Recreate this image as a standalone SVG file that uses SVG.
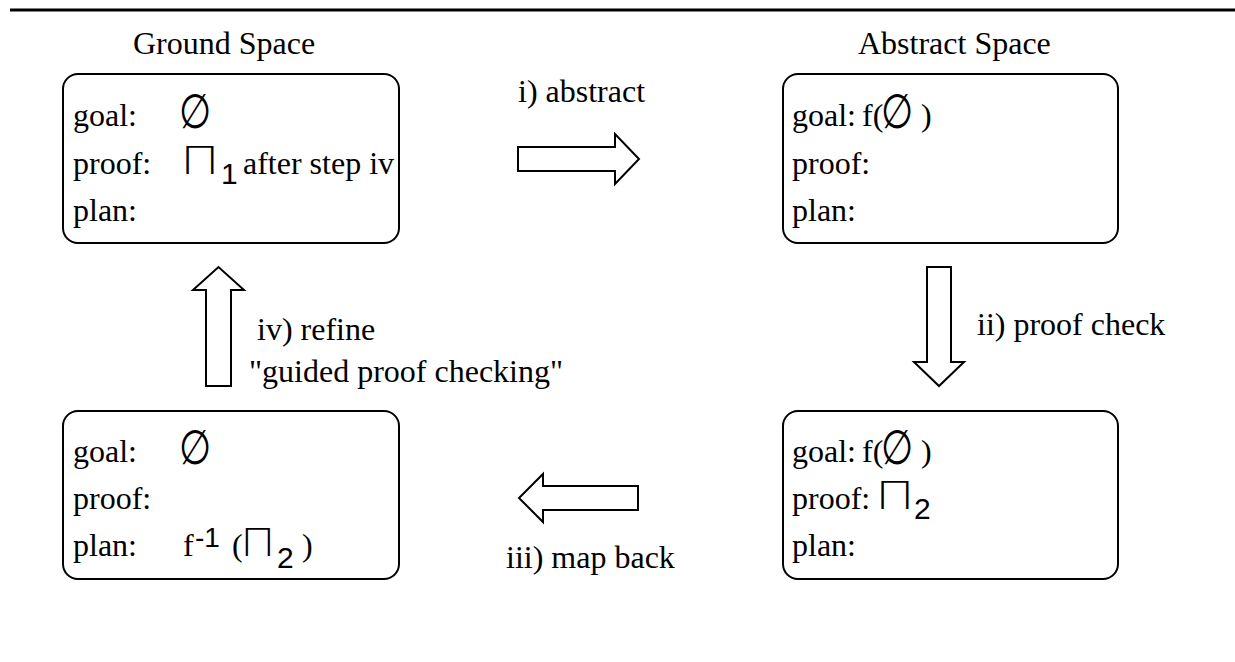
<svg xmlns="http://www.w3.org/2000/svg" width="1235" height="662" viewBox="0 0 1235 662">
<style>
.t{font-family:"Liberation Serif","Times New Roman",serif;font-size:32px;fill:#000}
.s{font-family:"Liberation Sans",Arial,sans-serif;fill:#000}
.pi{font-family:"DejaVu Sans ExtraLight",Inter,"Liberation Sans",sans-serif;font-weight:200;font-size:38px;fill:#000}
.sub{font-size:30px}
.sup{font-size:28px}
.es{font-family:"DejaVu Sans ExtraLight","DejaVu Sans",sans-serif;font-weight:200;font-size:37px;fill:#000;text-anchor:middle}
.box{fill:#fff;stroke:#000;stroke-width:2}
.arrow{fill:#fff;stroke:#000;stroke-width:2;stroke-linejoin:miter}
</style>
<rect width="1235" height="662" fill="#fff"/>
<line x1="10" y1="10" x2="1235" y2="10" stroke="#000" stroke-width="3"/>
<text class="t" x="133" y="54">Ground Space</text>
<text class="t" x="858" y="54">Abstract Space</text>

<g id="ground-initial">
<rect class="box" x="63" y="74" width="336" height="169" rx="15"/>
<text class="t" x="73" y="126">goal:</text>
<text class="es" transform="translate(195,128) scale(1,1.3)">∅</text>
<text class="t" x="73" y="174">proof:</text>
<text class="pi" transform="translate(181,174) scale(1.35,1)">Π</text>
<text class="s sub" x="221" y="184">1</text>
<text class="t" x="243" y="174">after step iv</text>
<text class="t" x="73" y="221">plan:</text>
</g>

<g id="abstract-initial">
<rect class="box" x="783" y="74" width="335" height="169" rx="15"/>
<text class="t" x="792" y="126">goal:</text>
<text class="t" x="862" y="126">f(</text>
<text class="es" transform="translate(897,128) scale(1,1.3)">∅</text>
<text class="t" x="921" y="126">)</text>
<text class="t" x="792" y="174">proof:</text>
<text class="t" x="792" y="221">plan:</text>
</g>

<g id="abstract-proved">
<rect class="box" x="783" y="411" width="335" height="168" rx="15"/>
<text class="t" x="792" y="462">goal:</text>
<text class="t" x="862" y="462">f(</text>
<text class="es" transform="translate(897,464) scale(1,1.3)">∅</text>
<text class="t" x="921" y="462">)</text>
<text class="t" x="792" y="509">proof:</text>
<text class="pi" transform="translate(876,509) scale(1.35,1)">Π</text>
<text class="s sub" x="914" y="519">2</text>
<text class="t" x="792" y="556">plan:</text>
</g>

<g id="ground-plan">
<rect class="box" x="63" y="411" width="336" height="168" rx="15"/>
<text class="t" x="73" y="462">goal:</text>
<text class="es" transform="translate(195,464) scale(1,1.3)">∅</text>
<text class="t" x="73" y="509">proof:</text>
<text class="t" x="73" y="556">plan:</text>
<text class="t" x="183" y="556">f</text>
<text class="s sup" x="195" y="547">-1</text>
<text class="t" x="232" y="556">(</text>
<text class="pi" transform="translate(241,556) scale(1.2,1)">Π</text>
<text class="s sub" x="277" y="568">2</text>
<text class="t" x="302" y="556">)</text>
</g>

<g id="connectors">
<polygon class="arrow" points="518,147 615,147 615,134 639,159 615,184 615,171 518,171"/>
<text class="t" x="518" y="102">i) abstract</text>
<polygon class="arrow" points="927,267 951,267 951,362 964,362 939,386 914,362 927,362"/>
<text class="t" x="977" y="335">ii) proof check</text>
<polygon class="arrow" points="638,486 543,486 543,474 519,498 543,522 543,510 638,510"/>
<text class="t" x="506" y="568">iii) map back</text>
<polygon class="arrow" points="206,386 206,290 193,290 218.5,267 244,290 231,290 231,386"/>
<text class="t" x="257" y="340">iv) refine</text>
<text class="t" x="249" y="382">"guided proof checking"</text>
</g>
</svg>
